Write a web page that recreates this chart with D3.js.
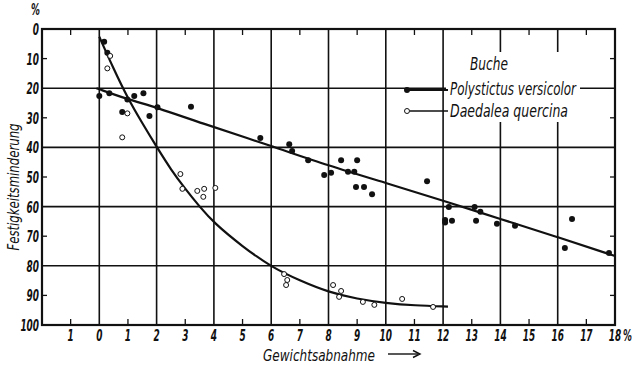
<!DOCTYPE html>
<html>
<head>
<meta charset="utf-8">
<script src="https://cdn.jsdelivr.net/npm/d3@7"></script>
<style>
  body { margin: 0; background: #fff; }
  text { font-family: "DejaVu Sans", sans-serif; font-stretch: condensed; font-style: italic; fill: #111; }
</style>
</head>
<body>
<div id="chart"></div>
<script>
// x ticks (Gewichtsabnahme %) and y ticks (Festigkeitsminderung %)
const xTicks = [-1,0,1,2,3,4,5,6,7,8,9,10,11,12,13,14,15,16,17,18]
const xGrid = [0,2,4,6,8,10,12,14,16]
const xMinor = [-1,1,3,5,7,9,11,13,15,17]
const yTicks = [0,10,20,30,40,50,60,70,80,90,100]
const yGrid = [20,40,60,80]
const yMinor = [10,30,50,70,90]

// Polystictus versicolor - filled dots
const polyX = [0,0.35,0.8,0.98,1.22,1.54,1.75,2.03,3.2,0.17,0.28,5.62,6.63,6.73,7.29,8.44,9.0,7.85,8.09,8.68,8.9,8.96,9.24,9.52,
               11.44,12.2,12.07,12.07,12.31,13.1,13.3,13.15,13.88,14.51,16.5,16.25,17.79]
const polyY = [22.6,21.7,28,23.8,22.6,21.7,29.4,26.4,26.3,4.3,8,36.8,38.9,41.2,44.3,44.3,44.3,49.3,48.6,48.2,48.2,53.4,53.4,55.8,
               51.4,60.1,64.5,65.4,64.8,60.1,61.7,64.8,65.8,66.5,64.2,74,75.7]
// Daedalea quercina - open circles
const daedX = [0.28,0.38,0.98,0.8,2.83,2.9,3.42,3.66,3.63,4.05,6.45,6.56,6.52,8.16,8.44,8.37,9.2,9.6,10.57,11.65]
const daedY = [13.3,9.1,28.5,36.6,49,54,54.7,54,56.7,53.7,82.8,84.8,86.5,86.5,88.5,90.5,92.2,93.2,91.2,93.9]

// fitted curves as drawn in the figure
const polyLineX = [-0.1,1,2,3.5,6,8,10,12,14,16,18]
const polyLineY = [20,23.8,26.5,31.6,39.5,46.2,52,58,64.2,70.3,76.7]
const daedLineX = [0,0.5,1,1.5,2,2.5,3,3.5,4,5,6,7,8,9,10,11,12.17]
const daedLineY = [2.6,13.5,23.5,31.8,39.8,47.5,54,60,65.5,73.5,80.4,85,88.9,91.2,92.6,93.4,93.8]

const width = 632, height = 365
const plot = {left: 42, right: 615, top: 29, bottom: 325}

const x = d3.scaleLinear().domain([-2, 18]).range([plot.left, plot.right])
const y = d3.scaleLinear().domain([0, 100]).range([plot.top, plot.bottom])

const svg = d3.select('#chart').append('svg')
    .attr('width', width)
    .attr('height', height)

// grid
svg.append('g').selectAll('line')
  .data(xGrid)
  .join('line')
    .attr('x1', d => x(d)).attr('x2', d => x(d))
    .attr('y1', plot.top).attr('y2', plot.bottom)
    .attr('stroke', '#111').attr('stroke-width', 1.6)
svg.append('g').selectAll('line')
  .data(yGrid)
  .join('line')
    .attr('x1', plot.left).attr('x2', plot.right)
    .attr('y1', d => y(d)).attr('y2', d => y(d))
    .attr('stroke', '#111').attr('stroke-width', 1.6)

// minor ticks (inside the frame)
const minor = svg.append('g').attr('stroke', '#111').attr('stroke-width', 1.3)
minor.selectAll('.mb').data(xMinor).join('line').attr('class', 'mb')
    .attr('x1', d => x(d)).attr('x2', d => x(d))
    .attr('y1', plot.bottom).attr('y2', plot.bottom - 6)
minor.selectAll('.mt').data(xMinor).join('line').attr('class', 'mt')
    .attr('x1', d => x(d)).attr('x2', d => x(d))
    .attr('y1', plot.top).attr('y2', plot.top + 6)
minor.selectAll('.ml').data(yMinor).join('line').attr('class', 'ml')
    .attr('x1', plot.left).attr('x2', plot.left + 5)
    .attr('y1', d => y(d)).attr('y2', d => y(d))
minor.selectAll('.mr').data(yMinor).join('line').attr('class', 'mr')
    .attr('x1', plot.right).attr('x2', plot.right - 5)
    .attr('y1', d => y(d)).attr('y2', d => y(d))

// frame
svg.append('rect')
    .attr('x', plot.left).attr('y', plot.top)
    .attr('width', plot.right - plot.left).attr('height', plot.bottom - plot.top)
    .attr('fill', 'none').attr('stroke', '#111').attr('stroke-width', 2.2)

// tick labels, squeezed horizontally like the drawn lettering
svg.append('g').selectAll('text')
  .data(xTicks)
  .join('text')
    .attr('transform', d => `translate(${x(d)},${plot.bottom + 16}) scale(0.62,1)`)
    .attr('text-anchor', 'middle')
    .attr('font-size', 16)
    .attr('font-weight', 'bold')
    .text(d => Math.abs(d))
svg.append('text')
    .attr('transform', `translate(${x(18) + 8},${plot.bottom + 16}) scale(0.62,1)`)
    .attr('font-size', 16).attr('font-weight', 'bold')
    .text('%')

svg.append('g').selectAll('text')
  .data(yTicks)
  .join('text')
    .attr('transform', d => `translate(${plot.left - 3},${y(d) + 6}) scale(0.62,1)`)
    .attr('text-anchor', 'end')
    .attr('font-size', 16)
    .attr('font-weight', 'bold')
    .text(d => d)
svg.append('text')
    .attr('transform', 'translate(40,15) scale(0.62,1)')
    .attr('text-anchor', 'end')
    .attr('font-size', 16).attr('font-weight', 'bold')
    .text('%')

// axis titles
svg.append('text')
    .attr('transform', 'translate(19, 187) rotate(-90)')
    .attr('text-anchor', 'middle')
    .attr('font-size', 16)
    .attr('textLength', 127).attr('lengthAdjust', 'spacingAndGlyphs')
    .text('Festigkeitsminderung')
svg.append('text')
    .attr('x', 319).attr('y', 361)
    .attr('text-anchor', 'middle')
    .attr('font-size', 16)
    .attr('textLength', 112).attr('lengthAdjust', 'spacingAndGlyphs')
    .text('Gewichtsabnahme')
svg.append('line')
    .attr('x1', 388).attr('x2', 418).attr('y1', 354).attr('y2', 354)
    .attr('stroke', '#111').attr('stroke-width', 1.4)
svg.append('path')
    .attr('d', 'M413,350.5 L420,354 L413,357.5')
    .attr('fill', 'none').attr('stroke', '#111').attr('stroke-width', 1.4)

// curves
const line = d3.line()
    .x(d => x(d[0]))
    .y(d => y(d[1]))
    .curve(d3.curveBasis)
svg.append('path')
    .attr('d', line(d3.zip(polyLineX, polyLineY)))
    .attr('fill', 'none').attr('stroke', '#111').attr('stroke-width', 2.2)
svg.append('path')
    .attr('d', line(d3.zip(daedLineX, daedLineY)))
    .attr('fill', 'none').attr('stroke', '#111').attr('stroke-width', 2.2)

// points
svg.append('g').selectAll('circle')
  .data(d3.zip(polyX, polyY))
  .join('circle')
    .attr('cx', d => x(d[0])).attr('cy', d => y(d[1]))
    .attr('r', 3)
    .attr('fill', '#111')
svg.append('g').selectAll('circle')
  .data(d3.zip(daedX, daedY))
  .join('circle')
    .attr('cx', d => x(d[0])).attr('cy', d => y(d[1]))
    .attr('r', 2.5)
    .attr('fill', '#fff').attr('stroke', '#111').attr('stroke-width', 1)

// legend
const legend = svg.append('g')
legend.append('rect')
    .attr('x', 446).attr('y', 52).attr('width', 134).attr('height', 70)
    .attr('fill', '#fff')
legend.append('text')
    .attr('x', 470).attr('y', 70)
    .attr('font-size', 17)
    .attr('textLength', 38).attr('lengthAdjust', 'spacingAndGlyphs')
    .text('Buche')
legend.append('line')
    .attr('x1', 407).attr('x2', 448).attr('y1', 90).attr('y2', 90)
    .attr('stroke', '#111').attr('stroke-width', 1.8)
legend.append('circle')
    .attr('cx', 407).attr('cy', 90).attr('r', 3).attr('fill', '#111')
legend.append('text')
    .attr('x', 450).attr('y', 95)
    .attr('font-size', 17)
    .attr('textLength', 126).attr('lengthAdjust', 'spacingAndGlyphs')
    .text('Polystictus versicolor')
legend.append('line')
    .attr('x1', 410).attr('x2', 448).attr('y1', 111).attr('y2', 111)
    .attr('stroke', '#111').attr('stroke-width', 1.4)
legend.append('circle')
    .attr('cx', 407).attr('cy', 111).attr('r', 2.5)
    .attr('fill', '#fff').attr('stroke', '#111').attr('stroke-width', 1)
legend.append('text')
    .attr('x', 450).attr('y', 117)
    .attr('font-size', 17)
    .attr('textLength', 118).attr('lengthAdjust', 'spacingAndGlyphs')
    .text('Daedalea quercina')
</script>
</body>
</html>
